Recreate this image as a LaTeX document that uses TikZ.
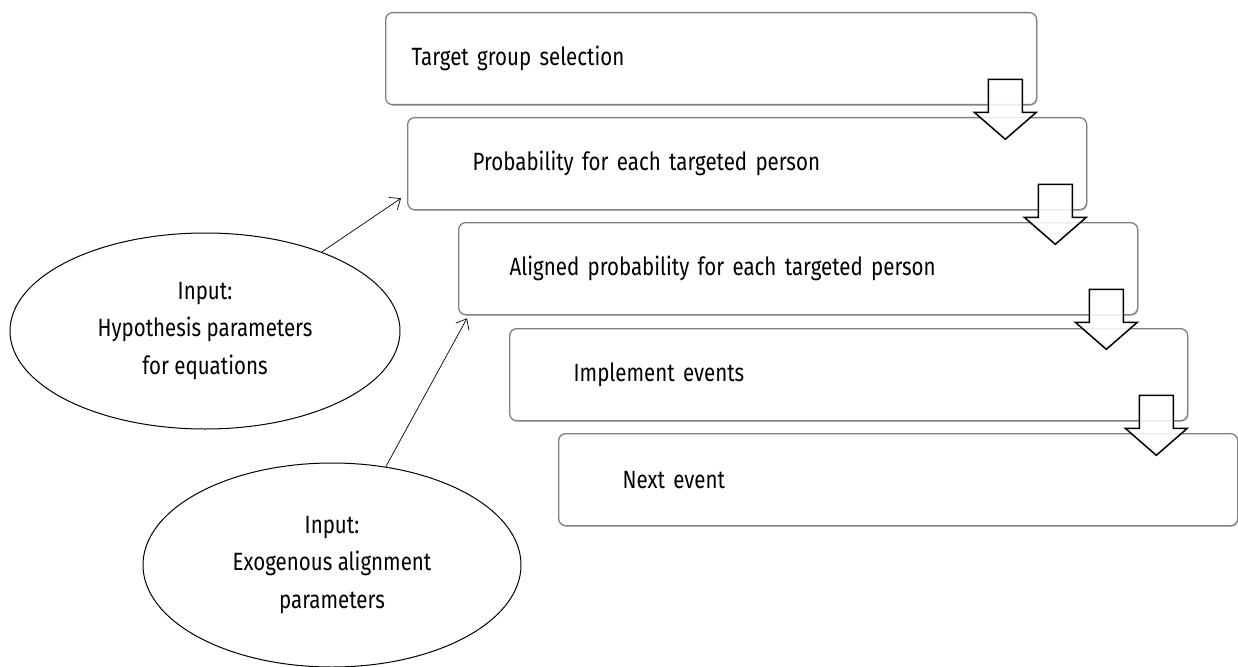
\documentclass[tikz,border=0pt]{standalone}
\usepackage{fontspec}
\setmainfont{Fira Sans}[FakeStretch=0.82]
\usetikzlibrary{shapes.geometric,arrows.meta,shadows}
\begin{document}
\begin{tikzpicture}[x=1pt, y=-1pt,
	stage/.style = {draw=black!50, line width=1.3pt, fill=white, rounded corners=7pt, anchor=north west, minimum height=92pt, align=left, font=\fontsize{25}{37.5}\selectfont, general shadow={shadow xshift=0.8pt, shadow yshift=-1.2pt, fill=black!22}},
	input/.style = {draw, ellipse, line width=1pt, align=center, font=\fontsize{25}{37.5}\selectfont},
	feed/.style = {-{Straight Barb[length=9pt,width=15pt]}, line width=0.7pt},
	pics/downarrow/.style = {code = {
		\draw[line width=1.5pt, fill=white, fill opacity=0.85, line join=miter] (-17,0) -- (17,0) -- (17,33) -- (31,33) -- (0,60) -- (-31,33) -- (-17,33) -- cycle;
	}}]
	\useasboundingbox (0,0) rectangle (1238,666);
	% Vaiheet
	\node[stage, inner xsep=26pt, text width=599pt] (target) at (385,12) {Target group selection};
	\node[stage, inner xsep=65pt, text width=549pt] (prob) at (407,117) {Probability for each targeted person};
	\node[stage, inner xsep=51pt, text width=577pt] (aligned) at (458,222) {Aligned probability for each targeted person};
	\node[stage, inner xsep=64pt, text width=550pt] (impl) at (509,328) {Implement events};
	\node[stage, inner xsep=64pt, text width=551pt] (next) at (558,433) {Next event};
	% Nuolet
	\pic at ([shift={(-32,-26)}]target.south east) {downarrow};
	\pic at ([shift={(-32,-26)}]prob.south east) {downarrow};
	\pic at ([shift={(-32,-26)}]aligned.south east) {downarrow};
	\pic at ([shift={(-32,-26)}]impl.south east) {downarrow};
	% Syotteet
	\node[input, minimum width=390pt, minimum height=196pt] (hyp) at (205,331) {Input:\\Hypothesis parameters\\for equations};
	\node[input, minimum width=378pt, minimum height=204pt] (exo) at (332,565) {Input:\\Exogenous alignment\\parameters};
	\coordinate (probin) at ([shift={(-6,-12)}]prob.south west);
	\coordinate (alignedin) at ([shift={(9,3)}]aligned.south west);
	\draw[feed] (hyp) -- (probin);
	\draw[feed] (exo) -- (alignedin);
\end{tikzpicture}
\end{document}
